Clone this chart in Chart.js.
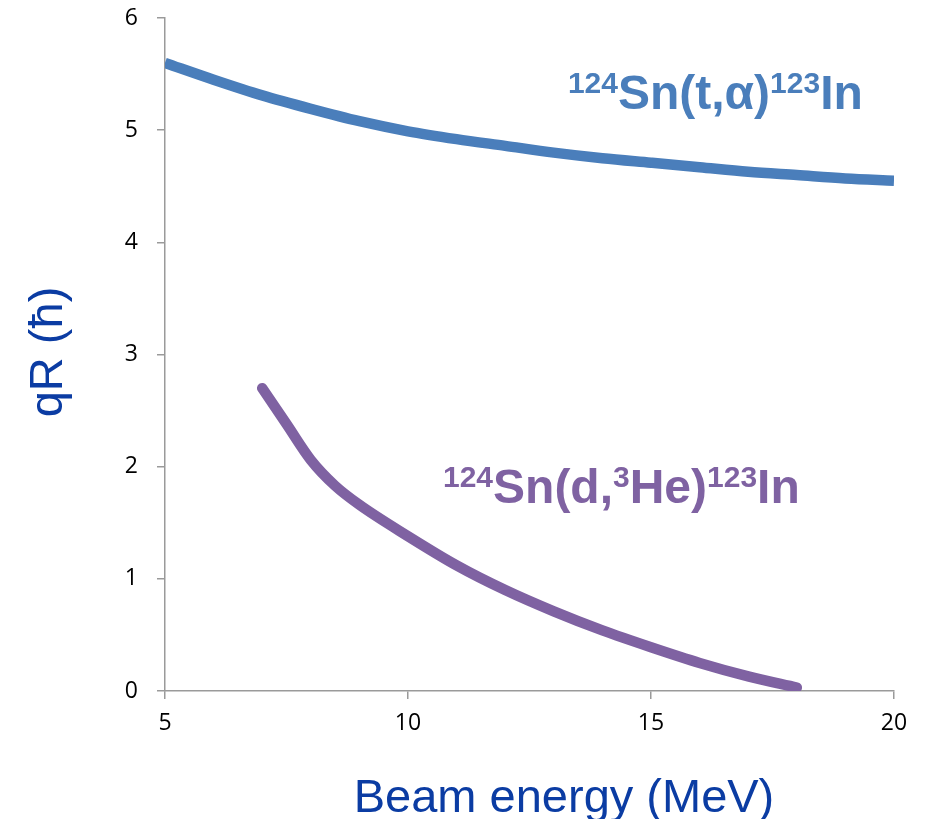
<!DOCTYPE html>
<html>
<head>
<meta charset="utf-8">
<title>qR vs beam energy</title>
<script src="https://cdn.jsdelivr.net/npm/chart.js@4.4.0/dist/chart.umd.min.js"></script>
<style>
  html, body { margin: 0; padding: 0; background: #fff; }
  #wrap { width: 928px; height: 819px; position: relative; }
</style>
</head>
<body>
<div id="wrap"><canvas id="qr" width="928" height="819"></canvas></div>
<script>
// 124Sn(t,alpha)123In
var energyTA = [5, 6, 7, 8, 9, 10, 11, 12, 13, 14, 15, 16, 17, 18, 19, 20];
var qrTA     = [5.60, 5.45, 5.31, 5.19, 5.08, 4.99, 4.92, 4.86, 4.80, 4.75, 4.71, 4.67, 4.63, 4.60, 4.57, 4.55];

// 124Sn(d,3He)123In
var energyDHe = [7, 7.5, 8, 8.5, 9, 10, 11, 12, 13, 14, 15, 16, 17, 18];
var qrDHe     = [2.70, 2.38, 2.06, 1.83, 1.66, 1.38, 1.12, 0.90, 0.71, 0.54, 0.39, 0.25, 0.13, 0.03];

var xTicks = [5, 10, 15, 20];
var yTicks = [0, 1, 2, 3, 4, 5, 6];

var BLUE = "#4a7ebb";
var PURPLE = "#7f62a2";
var TITLE_BLUE = "#0b3ca3";

function pts(xs, ys) {
  return xs.map(function (x, i) { return { x: x, y: ys[i] }; });
}

// reaction labels, anchored in data units (left edge, baseline)
var labels = [
  { x: 13.29, y: 5.19, color: BLUE,
    parts: [["124", true], ["Sn(t,\u03b1)", false], ["123", true], ["In", false]] },
  { x: 10.72, y: 1.68, color: PURPLE,
    parts: [["124", true], ["Sn(d,", false], ["3", true], ["He)", false], ["123", true], ["In", false]] }
];

var overlay = {
  id: "overlay",
  afterDraw: function (chart) {
    var ctx = chart.ctx;
    var xs = chart.scales.x, ys = chart.scales.y;
    ctx.save();

    // reaction labels with superscripts
    labels.forEach(function (lb) {
      var px = xs.getPixelForValue(lb.x);
      var py = ys.getPixelForValue(lb.y);
      ctx.fillStyle = lb.color;
      ctx.textBaseline = "alphabetic";
      ctx.textAlign = "left";
      lb.parts.forEach(function (p) {
        ctx.font = p[1] ? "bold 30px 'Liberation Sans', Arial, sans-serif"
                        : "bold 48px 'Liberation Sans', Arial, sans-serif";
        ctx.fillText(p[0], px, p[1] ? py - 16 : py);
        px += ctx.measureText(p[0]).width;
      });
    });

    // axis titles
    ctx.fillStyle = TITLE_BLUE;
    ctx.font = "47px 'Liberation Sans', Arial, sans-serif";
    ctx.textAlign = "center";
    ctx.textBaseline = "alphabetic";
    ctx.fillText("Beam energy (MeV)", 564, 812);

    ctx.translate(62, 352);
    ctx.rotate(-Math.PI / 2);
    ctx.fillText("qR (\u0127)", 0, 0);
    ctx.restore();
  }
};

var axisColor = "#9a9a9a";
var tickFont = { family: "'Open Sans', sans-serif", size: 23 };

new Chart(document.getElementById("qr"), {
  type: "line",
  data: {
    datasets: [
      { data: pts(energyTA, qrTA), borderColor: BLUE, borderWidth: 10.5,
        pointRadius: 0, cubicInterpolationMode: "monotone", clip: 0 },
      { data: pts(energyDHe, qrDHe), borderColor: PURPLE, borderWidth: 10.5,
        borderCapStyle: "round", pointRadius: 0, cubicInterpolationMode: "monotone" }
    ]
  },
  options: {
    responsive: false,
    animation: false,
    layout: { padding: { left: 0, right: 34, top: 18, bottom: 0 } },
    plugins: { legend: { display: false }, tooltip: { enabled: false } },
    scales: {
      x: {
        type: "linear", min: 5, max: 20,
        afterBuildTicks: function (s) { s.ticks = xTicks.map(function (v) { return { value: v }; }); },
        afterFit: function (s) { s.height = 128; s.paddingLeft = 0; s.paddingRight = 0; },
        grid: { drawOnChartArea: false, drawTicks: true, tickLength: 8, color: axisColor, lineWidth: 1.5 },
        border: { color: axisColor, width: 1.5 },
        ticks: { color: "#000", padding: 11, maxRotation: 0, font: tickFont }
      },
      y: {
        type: "linear", min: 0, max: 6,
        afterBuildTicks: function (s) { s.ticks = yTicks.map(function (v) { return { value: v }; }); },
        afterFit: function (s) { s.width = 165; s.paddingTop = 0; s.paddingBottom = 0; },
        grid: { drawOnChartArea: false, drawTicks: true, tickLength: 8, color: axisColor, lineWidth: 1.5 },
        border: { color: axisColor, width: 1.5 },
        ticks: { color: "#000", padding: 19, font: tickFont }
      }
    }
  },
  plugins: [overlay]
});
</script>
</body>
</html>
